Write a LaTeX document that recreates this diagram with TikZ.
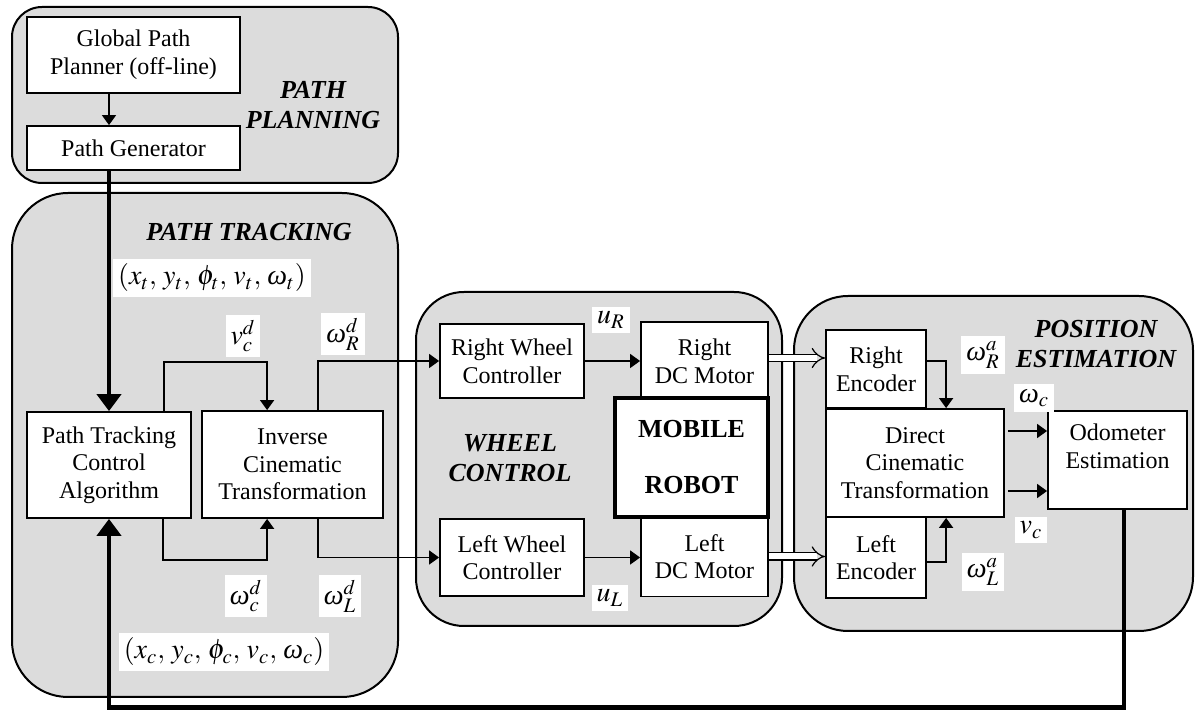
\documentclass[tikz,border=0pt]{standalone}
\usepackage{mathptmx}
\usepackage{fontspec}
\setmainfont{Liberation Serif}
\usetikzlibrary{arrows.meta}
\definecolor{panel}{RGB}{220,220,220}
\newcommand{\om}{\mbox{\itshape ω}}

\begin{document}
\begin{tikzpicture}[
    x=0.5pt, y=-0.5pt,
    group/.style={draw, line width=1pt, fill=panel},
    block/.style={rectangle, draw, fill=white, line width=0.9pt, inner sep=0pt, align=center, font=\fontsize{12}{13.8}\selectfont},
    title/.style={align=center, font=\fontsize{13}{15}\selectfont\bfseries\itshape},
    sig/.style={fill=white, inner sep=2.5pt, font=\fontsize{14}{16}\selectfont},
    arrow/.style={-{Triangle[length=5pt,width=7pt]}, line width=0.75pt},
    feedback/.style={-{Triangle[length=8.5pt,width=12pt]}, line width=2.4pt},
    power/.style={-{Implies}, double=white, double distance=3pt, line width=0.6pt}
]
    \useasboundingbox (0,0) rectangle (1195,710);

    % the four sub-systems
    \draw[group, rounded corners=15pt] (12,7) rectangle (398,183);
    \draw[group, rounded corners=28pt] (12,193) rectangle (398,697);
    \draw[group, rounded corners=24pt] (416,292) rectangle (782,626);
    \draw[group, rounded corners=27pt] (794,296) rectangle (1193,631);

    \node[title] (tplan) at (313,105) {PATH\\PLANNING};
    \node[title] (ttrack) at (249,232) {PATH TRACKING};
    \node[title] (twheel) at (510,458) {WHEEL\\CONTROL};
    \node[title] (tpos) at (1096,344) {POSITION\\ESTIMATION};

    % path planning
    \node[block, minimum width=106.5pt, minimum height=38pt] (gpp) at (133.5,55) {Global Path\\Planner (off-line)};
    \node[block, minimum width=106.5pt, minimum height=22pt] (pgen) at (133.5,148) {Path Generator};

    % path tracking
    \node[block, minimum width=82pt, minimum height=53pt] (ptc) at (109,465) {Path Tracking\\Control\\Algorithm};
    \node[block, minimum width=90.5pt, minimum height=53.5pt] (ict) at (292.5,464.5) {Inverse\\Cinematic\\Transformation};

    % wheel control and robot
    \node[block, minimum width=72pt, minimum height=37pt] (rwc) at (512,361) {Right Wheel\\Controller};
    \node[block, minimum width=72pt, minimum height=38.5pt] (lwc) at (512,557.5) {Left Wheel\\Controller};
    \node[block, minimum width=63.5pt, minimum height=39pt] (rdc) at (704.5,361) {Right\\DC Motor};
    \node[block, minimum width=63.5pt, minimum height=40pt] (ldc) at (704.5,556.5) {Left\\DC Motor};
    \node[block, line width=1.8pt, font=\fontsize{13}{15}\selectfont\bfseries, minimum width=76.5pt, minimum height=59.5pt] (robot) at (691.5,457.5) {MOBILE\\[13pt]ROBOT};

    % position estimation
    \node[block, minimum width=50pt, minimum height=39pt] (renc) at (876,369) {Right\\Encoder};
    \node[block, minimum width=89pt, minimum height=54pt] (dct) at (915,463) {Direct\\Cinematic\\Transformation};
    \node[block, minimum width=50pt, minimum height=40.5pt] (lenc) at (876,557.5) {Left\\Encoder};
    \node[block, minimum width=69.5pt, minimum height=49pt] (odo) at (1117.5,460) {Odometer\\Estimation\\\mbox{}};

    % connections
    \draw[arrow] (gpp.south -| ptc.north) -- (pgen.north -| ptc.north);
    \draw[feedback] (pgen.south -| ptc.north) -- (ptc.north);
    \draw[arrow] ([xshift=-14pt]ptc.north east) -- ++(0,-49) -| ([xshift=33pt]ict.north west);
    \draw[arrow] ([xshift=-14.5pt]ptc.south east) -- ++(0,41) -| ([xshift=33pt]ict.south west);
    \draw[arrow] ([xshift=58.5pt]ict.north west) |- (rwc.west);
    \draw[arrow] ([xshift=58.5pt]ict.south west) |- (lwc.west);
    \draw[arrow] (rwc.east) -- (rwc.east -| rdc.west);
    \draw[arrow] (lwc.east) -- (lwc.east -| ldc.west);
    \draw[power] ([yshift=1.5pt]rdc.east) -- ([yshift=1.5pt]rdc.east -| renc.west);
    \draw[power] (ldc.east) -- (ldc.east -| lenc.west);
    \draw[arrow] ([yshift=4pt]renc.east) -| ([xshift=60.5pt]dct.north west);
    \draw[arrow] ([yshift=-2.25pt]lenc.east) -| ([xshift=60.5pt]dct.south west);
    \coordinate (wout) at ([xshift=1.5pt,yshift=16pt]dct.east);
    \coordinate (vout) at ([xshift=1.5pt,yshift=-14pt]dct.east);
    \draw[arrow] (wout) -- (wout -| odo.west);
    \draw[arrow] (vout) -- (vout -| odo.west);
    \draw[feedback] ([xshift=3.25pt]odo.south) -- ++(0,198) -| (ptc.south);

    % signal labels
    \node[sig] (qt) at (212,278) {$(x_t,\, y_t,\, \phi_t,\, v_t,\, \om_t)$};
    \node[sig] (qc) at (224,652) {$(x_c,\, y_c,\, \phi_c,\, v_c,\, \om_c)$};
    \node[sig] (vcd) at (243,336) {$v_c^d$};
    \node[sig] (wrd) at (343,334) {$\om_R^d$};
    \node[sig] (wcd) at (246,596) {$\om_c^d$};
    \node[sig] (wld) at (340,596) {$\om_L^d$};
    \node[sig] (ur) at (611,320) {$u_R$};
    \node[sig] (ul) at (610,598) {$u_L$};
    \node[sig] (wra) at (983,355) {$\om_R^a$};
    \node[sig] (wla) at (983,572) {$\om_L^a$};
    \node[sig] (wc) at (1034,398) {$\om_c$};
    \node[sig] (vc) at (1031,530) {$v_c$};
\end{tikzpicture}
\end{document}
